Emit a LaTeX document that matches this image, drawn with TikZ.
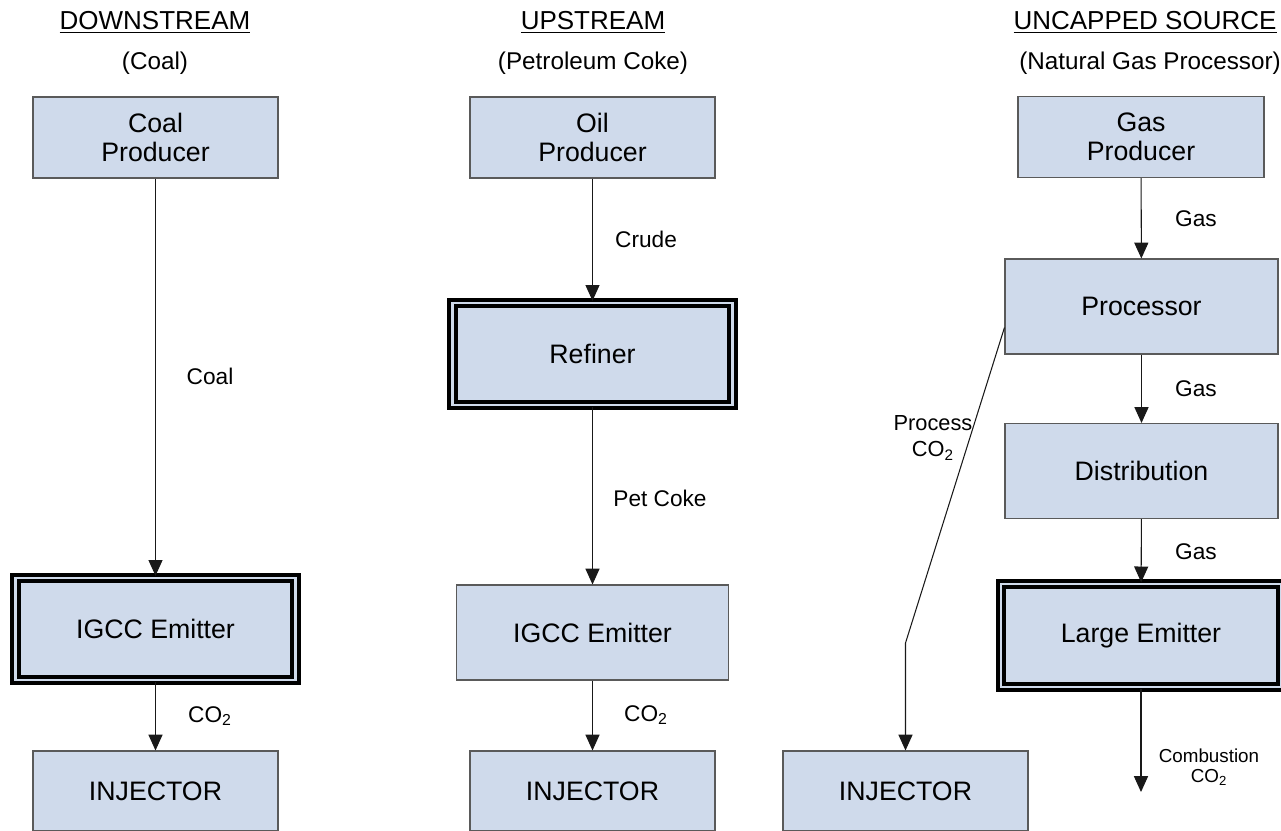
\documentclass[tikz,border=0pt]{standalone}
\usepackage{fontspec}
\setmainfont{Liberation Sans}
\usepackage{xcolor}
\usetikzlibrary{arrows.meta}

\definecolor{boxblue}{RGB}{207,218,235}
\definecolor{edgegray}{RGB}{90,90,90}

\tikzset{
  box/.style={rectangle, draw=edgegray, line width=0.6pt, fill=boxblue, align=center,
    inner sep=0pt, font=\fontsize{15.2}{16.5}\selectfont},
  emitter/.style={box, draw=black, line width=2.2pt, double=boxblue, double distance=1.3pt},
  flow/.style={-{Triangle[width=8pt,length=9pt]}, line width=0.6pt, draw=black!90},
  lbl/.style={align=center, font=\fontsize{12.9}{15}\selectfont},
  head/.style={font=\fontsize{14.8}{17}\selectfont},
  subhead/.style={font=\fontsize{13.8}{16}\selectfont}
}

\begin{document}
\begin{tikzpicture}
\useasboundingbox (0,0) rectangle (25.62,-16.62);

% headings %
\node[head] (hdown) at (3.1,-0.44) {\underline{DOWNSTREAM}};
\node[subhead] (sdown) at (3.1,-1.26) {(Coal)};
\node[head] (hup) at (11.86,-0.44) {\underline{UPSTREAM}};
\node[subhead] (sup2) at (11.86,-1.26) {(Petroleum Coke)};
\node[head] (hunc) at (22.9,-0.44) {\underline{UNCAPPED SOURCE}};
\node[subhead] (sunc) at (23.0,-1.26) {(Natural Gas Processor)};

% coal column %
\node[box, minimum width=4.9cm, minimum height=1.62cm] (coalprod) at (3.11,-2.75) {Coal\\Producer};
\node[emitter, minimum width=5.6cm, minimum height=2.05cm] (igcc1) at (3.11,-12.58) {IGCC Emitter};
\node[box, minimum width=4.9cm, minimum height=1.6cm] (inj1) at (3.11,-15.82) {INJECTOR};

% petroleum coke column %
\node[box, minimum width=4.9cm, minimum height=1.62cm] (oilprod) at (11.85,-2.75) {Oil\\Producer};
\node[emitter, minimum width=5.6cm, minimum height=2.05cm] (refiner) at (11.85,-7.08) {Refiner};
\node[box, minimum width=5.44cm, minimum height=1.9cm] (igcc2) at (11.85,-12.65) {IGCC Emitter};
\node[box, minimum width=4.9cm, minimum height=1.6cm] (inj2) at (11.85,-15.82) {INJECTOR};

% natural gas column %
\node[box, minimum width=4.92cm, minimum height=1.62cm] (gasprod) at (22.82,-2.74) {Gas\\Producer};
\node[box, minimum width=5.46cm, minimum height=1.9cm] (proc) at (22.83,-6.13) {Processor};
\node[box, minimum width=5.46cm, minimum height=1.9cm] (dist) at (22.83,-9.42) {Distribution};
\node[emitter, minimum width=5.6cm, minimum height=2.05cm] (large) at (22.82,-12.71) {Large Emitter};
\node[box, minimum width=4.9cm, minimum height=1.6cm] (inj3) at (18.11,-15.82) {INJECTOR};
\coordinate (bend) at (18.11,-12.86);
\coordinate (vent) at (22.82,-15.84);

% edges %
\draw[flow] (coalprod) -- (igcc1);
\draw[flow] (igcc1) -- (inj1);
\draw[flow] (oilprod) -- (refiner);
\draw[flow] (refiner) -- (igcc2);
\draw[flow] (igcc2) -- (inj2);
\draw[flow] (gasprod) -- (proc);
\draw[flow] (proc) -- (dist);
\draw[flow] (dist) -- (large);
\draw[flow] (large) -- (vent);
\draw[flow] ([yshift=-0.42cm]proc.west) -- (bend) -- (inj3);

% edge labels %
\node[lbl] (lcoal) at (4.2,-7.52) {Coal};
\node[lbl] (lco1) at (4.2,-14.32) {CO\textsubscript{2}};
\node[lbl] (lcrude) at (12.92,-4.78) {Crude};
\node[lbl] (lpet) at (13.2,-9.96) {Pet Coke};
\node[lbl] (lco2) at (12.92,-14.3) {CO\textsubscript{2}};
\node[lbl] (lgas1) at (23.92,-4.37) {Gas};
\node[lbl] (lgas2) at (23.92,-7.78) {Gas};
\node[lbl] (lgas3) at (23.92,-11.04) {Gas};
\node[lbl, font=\fontsize{12.4}{15}\selectfont] (lproc) at (18.66,-8.76) {Process\\CO\textsubscript{2}};
\node[lbl, font=\fontsize{10.7}{11.4}\selectfont] (lcomb) at (24.18,-15.34) {Combustion\\CO\textsubscript{2}};
\end{tikzpicture}
\end{document}
